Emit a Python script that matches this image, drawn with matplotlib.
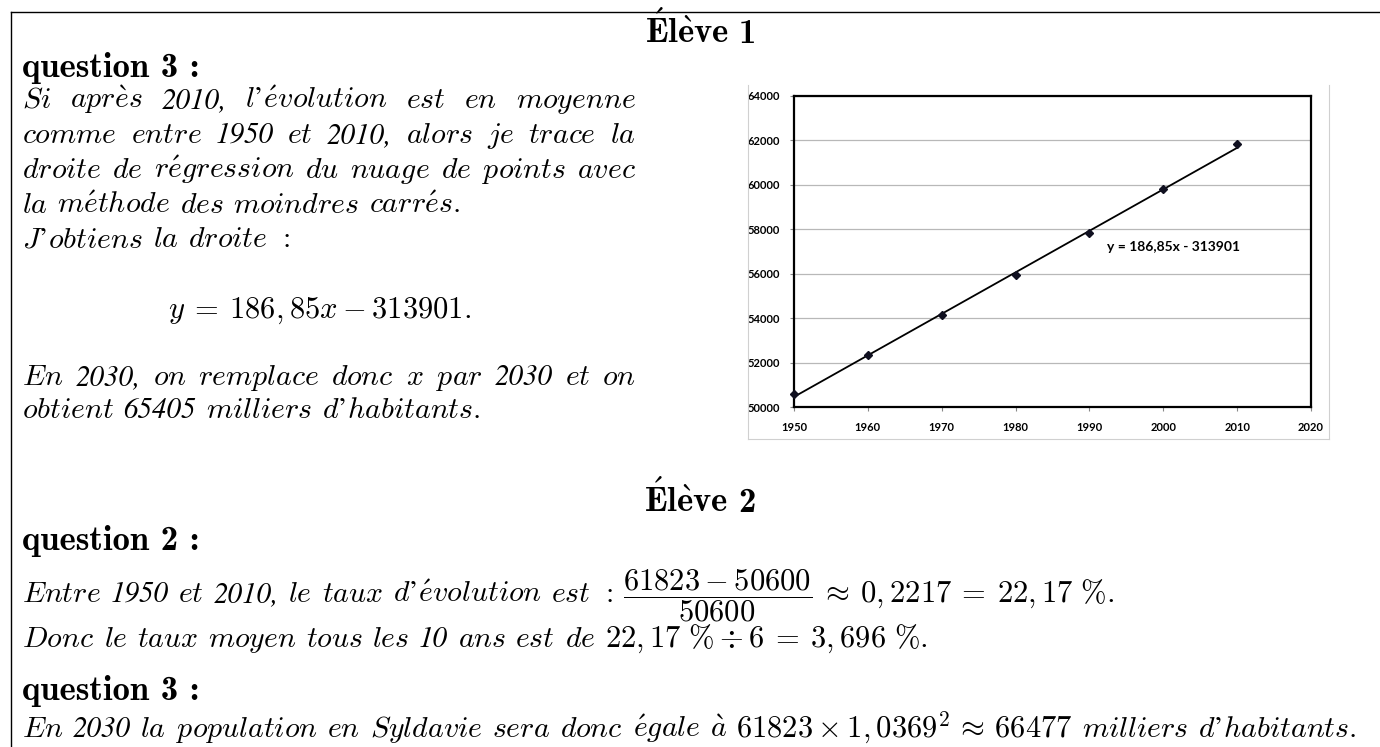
import matplotlib
matplotlib.use("Agg")
import matplotlib.pyplot as plt
from matplotlib.lines import Line2D
import numpy as np

plt.rcParams['mathtext.fontset'] = 'cm'

# ---------------- data ----------------
years = [1950, 1960, 1970, 1980, 1990, 2000, 2010]
population = [50600, 52330, 54130, 55950, 57850, 59800, 61823]
slope = 186.85
intercept = -313901
x_ticks = [1950, 1960, 1970, 1980, 1990, 2000, 2010, 2020]
y_ticks = [50000, 52000, 54000, 56000, 58000, 60000, 62000, 64000]
trend_label = "y = 186,85x - 313901"

# ---------------- figure ----------------
W, H = 1380, 747
DPI = 100
fig = plt.figure(figsize=(W / DPI, H / DPI), dpi=DPI)
fig.patch.set_facecolor('white')
renderer = fig.canvas.get_renderer()

IT_SIZE = 21.5
M_SIZE = 22.0
BF_SIZE = 25.0
SPACE_PX = 9.6


def fy(y):
    return 1 - y / H


def make_text(kind, s, x, y, ha='left'):
    kw = dict(ha=ha, va='baseline', color='black')
    if kind == 'm':
        return fig.text(x, fy(y), s, fontsize=M_SIZE, **kw)
    if kind == 'it':
        if any(c.isdigit() for c in s):
            return fig.text(x, fy(y), s, fontsize=IT_SIZE * 0.97,
                            family='STIXGeneral', style='italic', **kw)
        rep = s.replace('é', r'\acute{e}').replace('è', r'\grave{e}') \
               .replace('à', r'\grave{a}').replace("'", '’')
        return fig.text(x, fy(y), r'$\mathit{' + rep + '}$', fontsize=IT_SIZE, **kw)
    # bold
    if all(ord(c) < 128 for c in s):
        return fig.text(x, fy(y), s, fontsize=BF_SIZE, family='cmb10', **kw)
    rep = s.replace('É', r'\acute{E}').replace('è', r'\grave{e}')
    return fig.text(x, fy(y), r'$\mathbf{' + rep + '}$', fontsize=BF_SIZE, **kw)


def place_line(tokens, y, x0, x1=None, justify=False, xc=None):
    texts = [make_text(k, s, 0, y) for k, s in tokens]
    widths = [t.get_window_extent(renderer).width for t in texts]
    if justify and len(texts) > 1:
        gap = (x1 - x0 - sum(widths)) / (len(texts) - 1)
    else:
        gap = SPACE_PX
    if xc is not None:
        x0 = xc - (sum(widths) + gap * (len(texts) - 1)) / 2
    x = x0
    for t, w in zip(texts, widths):
        t.set_x(x / W)
        x += w + gap


def words(kind, s):
    return [(kind, w) for w in s.split(' ')]


# ---------------- frame ----------------
fig.add_artist(Line2D([11 / W, 1.0], [fy(12), fy(12)], color='black', lw=1.0,
                      transform=fig.transFigure))
fig.add_artist(Line2D([11 / W, 11 / W], [fy(12), 0.0], color='black', lw=1.0,
                      transform=fig.transFigure))

XL = 22
XR_COL = 636

# ---------------- Élève 1 ----------------
place_line([('bf', 'Élève'), ('bf', '1')], 43, 0, xc=700)
place_line([('bf', 'question 3 :')], 77, XL)
place_line(words('it', "Si après 2010, l'évolution est en moyenne"), 108, XL, XR_COL, True)
place_line(words('it', "comme entre 1950 et 2010, alors je trace la"), 143, XL, XR_COL, True)
place_line(words('it', "droite de régression du nuage de points avec"), 178, XL, XR_COL, True)
place_line(words('it', "la méthode des moindres carrés."), 213, XL)
place_line(words('it', "J'obtiens la droite :"), 247, XL)
place_line([('m', r'$y \:=\: 186,85x - 313901.$')], 318, 0, xc=320)
place_line(words('it', "En 2030, on remplace donc x par 2030 et on"), 385, XL, XR_COL, True)
place_line(words('it', "obtient 65405 milliers d'habitants."), 418, XL)

# ---------------- chart image ----------------
gray = '#d0d0d0'
fig.add_artist(Line2D([748 / W, 748 / W], [fy(85), fy(439)], color=gray, lw=0.8,
                      transform=fig.transFigure))
fig.add_artist(Line2D([1329 / W, 1329 / W], [fy(85), fy(439)], color=gray, lw=0.8,
                      transform=fig.transFigure))
fig.add_artist(Line2D([748 / W, 1329 / W], [fy(439), fy(439)], color=gray, lw=0.8,
                      transform=fig.transFigure))

ax = fig.add_axes([794 / W, fy(407), (1311 - 794) / W, (407 - 96) / H])
ax.set_xlim(x_ticks[0], x_ticks[-1])
ax.set_ylim(y_ticks[0], y_ticks[-1])
ax.set_xticks(x_ticks)
ax.set_yticks(y_ticks)
ax.grid(axis='y', color='#b8b8b8', lw=0.9)
ax.set_axisbelow(True)
xl = np.array([years[0], years[-1]], dtype=float)
ax.plot(xl, slope * xl + intercept, color='black', lw=1.3, zorder=2)
ax.plot(years, population, linestyle='none', marker='D', ms=4.4,
        color='#101020', zorder=3, clip_on=False)
ax.text(1992.4, 57200, trend_label, fontsize=10, fontweight='bold',
        family='Lato', ha='left', va='center')
for s in ax.spines.values():
    s.set_linewidth(1.6)
    s.set_color('black')
ax.tick_params(axis='both', direction='out', length=3, width=0.8, color='#888888')
ax.tick_params(axis='x', pad=8)
ax.tick_params(axis='y', pad=7)
for lab in ax.get_xticklabels() + ax.get_yticklabels():
    lab.set_fontfamily('Lato')
    lab.set_fontweight('bold')
    lab.set_fontsize(8)

# ---------------- Élève 2 ----------------
place_line([('bf', 'Élève'), ('bf', '2')], 512, 0, xc=700)
place_line([('bf', 'question 2 :')], 550, XL)
place_line(words('it', "Entre 1950 et 2010, le taux d'évolution est :") +
           [('m', r'$\dfrac{61823 - 50600}{50600}\:\approx\: 0,2217 \:=\: 22,17\ \%.$')],
           602, XL)
place_line(words('it', "Donc le taux moyen tous les 10 ans est de") +
           [('m', r'$22,17\ \%\div 6 \:=\: 3,696\ \%.$')], 647, XL)
place_line([('bf', 'question 3 :')], 700, XL)
place_line(words('it', "En 2030 la population en Syldavie sera donc égale à") +
           [('m', r'$61823\times 1,0369^2\,\approx\, 66477$')] +
           words('it', "milliers d'habitants."), 737, XL)

fig.savefig('out.png', dpi=DPI, facecolor='white')
